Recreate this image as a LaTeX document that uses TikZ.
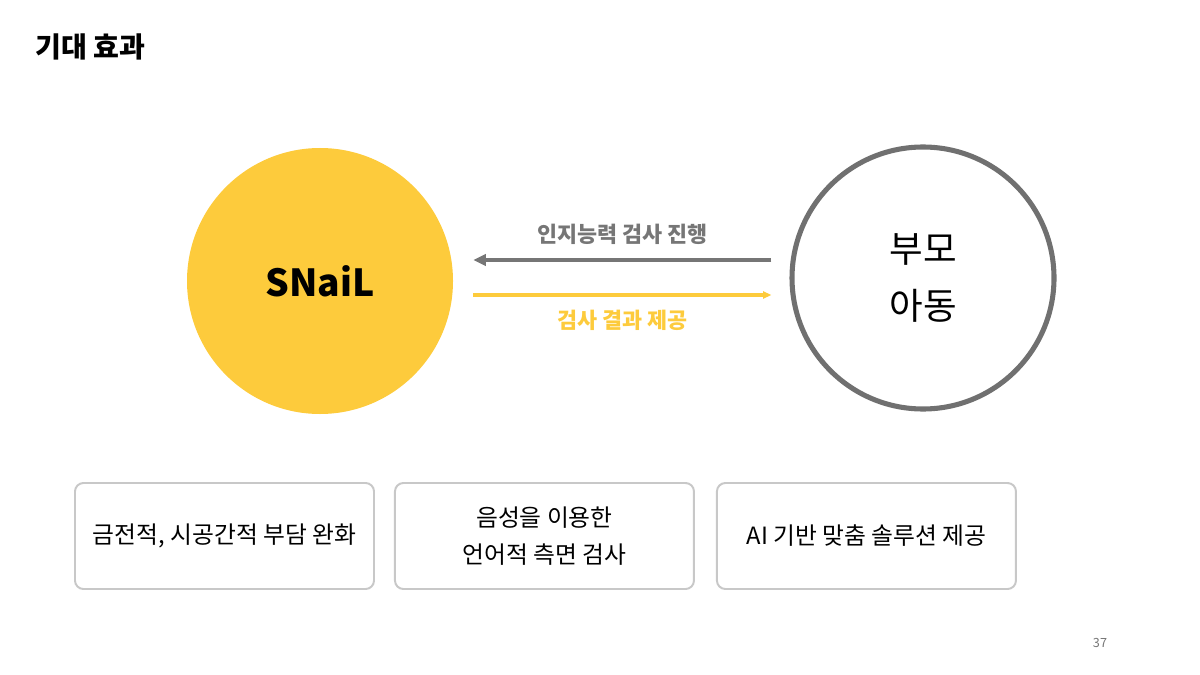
\documentclass[tikz,border=0pt]{standalone}
\usepackage{fontspec}
\setmainfont{Noto Sans CJK KR}
\usetikzlibrary{positioning, calc, arrows.meta}

\begin{document}
\begin{tikzpicture}[x=0.025cm, y=-0.025cm,
        effectbox/.style={draw=boxgray, line width=1.4pt, rounded corners=6pt,
            minimum width=299*0.025cm, minimum height=106*0.025cm,
            align=center, font=\fontsize{16.9}{26}\selectfont},
        arrowlabel/.style={font=\fontsize{15.5}{18}\selectfont\bfseries}]
        % Định nghĩa màu sắc
        \definecolor{snailyellow}{RGB}{253, 203, 60}
        \definecolor{ringgray}{RGB}{112, 112, 112}
        \definecolor{arrowgray}{RGB}{118, 118, 118}
        \definecolor{boxgray}{RGB}{200, 200, 200}

        % Khung trang
        \useasboundingbox (0,0) rectangle (1200,675);

        % Tiêu đề
        \node[anchor=west, font=\fontsize{20}{22}\selectfont\bfseries, inner sep=0pt] (title) at (35, 47) {기대 효과};

        % 1. Hai vòng tròn
        \node[circle, fill=snailyellow, minimum size=266*0.025cm, font=\fontsize{26.5}{30}\selectfont\bfseries] (snail) at (320, 281) {SNaiL};
        \node[circle, draw=ringgray, line width=3.6pt, minimum size=262*0.025cm, align=center,
              font=\fontsize{26}{41}\selectfont] (family) at (923, 278) {부모\\아동};

        % 2. Các mũi tên
        \draw[-{Triangle[length=9pt, width=8pt]}, line width=2.8pt, arrowgray]
            ([shift={(-18,-18)}]family.west) -- ([shift={(20,-21)}]snail.east)
            node[midway, above=6pt, arrowlabel] (request) {인지능력 검사 진행};
        \draw[-{Triangle[length=6pt, width=5pt]}, line width=2.2pt, snailyellow]
            ([shift={(20,14)}]snail.east) -- ([shift={(-18,17)}]family.west)
            node[midway, below=6pt, arrowlabel] (result) {검사 결과 제공};

        % 3. Các hộp hiệu quả
        \node[effectbox] (cost) at (224.5, 536) {금전적, 시공간적 부담 완화};
        \node[effectbox, right=19*0.025cm of cost] (voice) {음성을 이용한\\언어적 측면 검사};
        \node[effectbox, right=21*0.025cm of voice] (ai) {AI 기반 맞춤 솔루션 제공};

        % Số trang
        \node[text=arrowgray, font=\fontsize{9}{10}\selectfont] (page) at (1100, 643) {37};

    \end{tikzpicture}
\end{document}
